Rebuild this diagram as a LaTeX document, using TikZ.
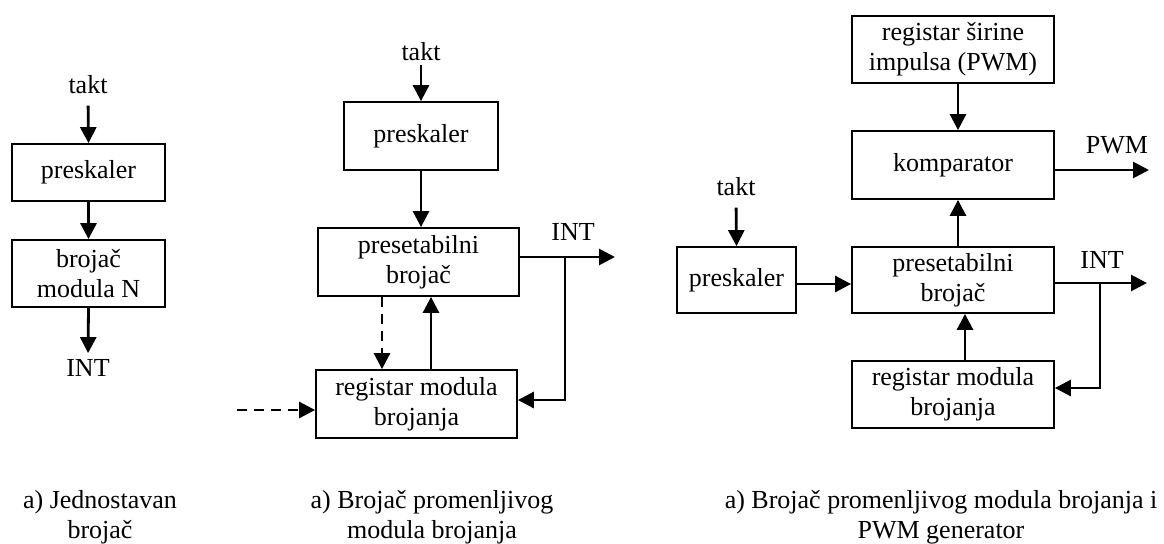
\documentclass[tikz,border=0pt]{standalone}
\usepackage{fontspec}
\setmainfont{Liberation Serif}
\usetikzlibrary{arrows.meta,calc}
\begin{document}
\begin{tikzpicture}[x=0.5pt,y=-0.5pt,
  font=\fontsize{13}{15}\selectfont,
  box/.style={draw, line width=0.9pt, align=center, inner sep=0pt, minimum height=34pt},
  lbl/.style={inner sep=0pt, align=center},
  arr/.style={line width=1.4pt, -{Triangle[length=8pt,width=8pt]}},
  dsh/.style={arr, dash pattern=on 5pt off 3.5pt}]
\useasboundingbox (0,0) rectangle (1164,543);

% ---------- left: simple counter ----------
\node[lbl] (takt1) at (88,85) {takt};
\node[box, minimum width=76.5pt, minimum height=28.5pt] (pres1) at (88.5,172.5) {preskaler};
\node[box, minimum width=76.5pt, minimum height=33.5pt] (broj1) at (88.5,273.5) {brojač\\modula N};
\node[lbl] (int1) at (88,368) {INT};
\draw[arr, shorten <=5.5pt] (takt1.south) -- (pres1.north);
\draw[arr] (pres1.south) -- (broj1.north);
\draw[arr, shorten >=3pt] (broj1.south) -- (int1.north);

% ---------- middle: variable modulus counter ----------
\node[lbl] (takt2) at (421,52) {takt};
\node[box, minimum width=77pt] (pres2) at (421,136) {preskaler};
\node[box, minimum width=100.5pt] (pb2) at (418.5,262) {presetabilni\\brojač};
\node[box, minimum width=100.5pt] (reg2) at (416.5,404) {registar modula\\brojanja};
\node[lbl] (int2) at (573,232) {INT};
\coordinate (int2end) at (615,257);
\coordinate (br2) at (565,257);
\coordinate (x382) at (382,0);
\coordinate (x421) at (421,0);
\coordinate (x431) at (431,0);
\coordinate (din) at (237,410);
\coordinate (y400) at (0,400);
\draw[arr, shorten <=1.5pt] (takt2.south) -- (pres2.north);
\draw[arr] (pres2.south) -- (pb2.north -| x421);
\draw[arr] (pb2.east |- int2end) -- (int2end);
\draw[arr] (br2) |- (reg2.east |- y400);
\draw[dsh] (pb2.south -| x382) -- (reg2.north -| x382);
\draw[arr] (reg2.north -| x431) -- (pb2.south -| x431);
\draw[dsh] (din) -- (din -| reg2.west);

% ---------- right: variable modulus counter + PWM ----------
\node[box, minimum width=101pt, minimum height=33.5pt] (rs3) at (953,49.5) {registar širine\\impulsa (PWM)};
\node[box, minimum width=101pt] (komp) at (953,165) {komparator};
\node[box, minimum width=101pt, minimum height=33pt] (pb3) at (953,280) {presetabilni\\brojač};
\node[box, minimum width=101pt, minimum height=33.5pt] (reg3) at (953,394.5) {registar modula\\brojanja};
\node[box, minimum width=59.5pt, minimum height=33pt] (pres3) at (736.5,280) {preskaler};
\node[lbl] (takt3) at (736,187) {takt};
\node[lbl] (pwm) at (1117,145) {PWM};
\node[lbl] (int3) at (1102,260) {INT};
\coordinate (pwmend) at (1149,170);
\coordinate (int3end) at (1147,283);
\coordinate (br3) at (1100,283);
\coordinate (x958) at (958,0);
\coordinate (x965) at (965,0);
\coordinate (y285) at (0,284);
\coordinate (y388) at (0,388);
\draw[arr, shorten <=5.5pt] (takt3.south) -- (pres3.north);
\draw[arr] (rs3.south -| x958) -- (komp.north -| x958);
\draw[arr] (pb3.north -| x958) -- (komp.south -| x958);
\draw[arr] (reg3.north -| x965) -- (pb3.south -| x965);
\draw[arr] (pres3.east |- y285) -- (pb3.west |- y285);
\draw[arr] (komp.east |- pwmend) -- (pwmend);
\draw[arr] (pb3.east |- int3end) -- (int3end);
\draw[arr] (br3) |- (reg3.east |- y388);

% ---------- captions ----------
\node[lbl] (cap1) at (100,517) {a) Jednostavan\\brojač};
\node[lbl] (cap2) at (432,517) {a) Brojač promenljivog\\modula brojanja};
\node[lbl] (cap3) at (941,517) {a) Brojač promenljivog modula brojanja i\\PWM generator};
\end{tikzpicture}
\end{document}
